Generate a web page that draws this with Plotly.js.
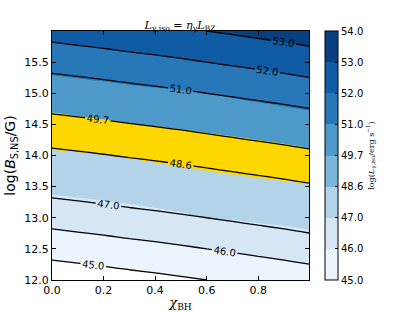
<!DOCTYPE html>
<html>
<head>
<meta charset="utf-8">
<script src="https://cdn.plot.ly/plotly-3.0.1.min.js"></script>
<style>html,body{margin:0;padding:0;background:#fff;}#chart{width:415px;height:312px;}</style>
</head>
<body>
<div id="chart"></div>
<script>
// Spin parameter samples (x) and log magnetic field samples (y)
const chi = [0, 0.1, 0.2, 0.3, 0.4, 0.5, 0.6, 0.7, 0.8, 0.9, 0.997];
const logB = [12, 12.5, 13, 13.5, 14, 14.5, 15, 15.5, 16];
// log L_gamma,iso, one row per logB value
const logL = [
  [44.36, 44.46, 44.56, 44.67, 44.77, 44.88, 45.00, 45.12, 45.24, 45.36, 45.49],
  [45.36, 45.46, 45.56, 45.67, 45.77, 45.88, 46.00, 46.12, 46.24, 46.36, 46.49],
  [46.36, 46.46, 46.56, 46.67, 46.77, 46.88, 47.00, 47.12, 47.24, 47.36, 47.49],
  [47.36, 47.46, 47.56, 47.67, 47.77, 47.88, 48.00, 48.12, 48.24, 48.36, 48.49],
  [48.36, 48.46, 48.56, 48.67, 48.77, 48.88, 49.00, 49.12, 49.24, 49.36, 49.49],
  [49.36, 49.46, 49.56, 49.67, 49.77, 49.88, 50.00, 50.12, 50.24, 50.36, 50.49],
  [50.36, 50.46, 50.56, 50.67, 50.77, 50.88, 51.00, 51.12, 51.24, 51.36, 51.49],
  [51.36, 51.46, 51.56, 51.67, 51.77, 51.88, 52.00, 52.12, 52.24, 52.36, 52.49],
  [52.36, 52.46, 52.56, 52.67, 52.77, 52.88, 53.00, 53.12, 53.24, 53.36, 53.49]
];
const levels = [45, 46, 47, 48.6, 49.7, 51, 52, 53, 54];
const levelLabels = ['45.0', '46.0', '47.0', '48.6', '49.7', '51.0', '52.0', '53.0', '54.0'];
const bandColors = ['#ecf4fb', '#d6e6f4', '#b2d3e8', '#ffd700', '#4c99ca', '#2878b9', '#105ca4', '#083f81'];
const barColors  = ['#ecf4fb', '#d6e6f4', '#b2d3e8', '#7bb7d9', '#4c99ca', '#2878b9', '#105ca4', '#083f81'];
const xTicks = [0, 0.2, 0.4, 0.6, 0.8];
const yTicks = [12, 12.5, 13, 13.5, 14, 14.5, 15, 15.5];

// position of a value on the (uneven) level scale, used only to colour the bands
function levelIndex(v) {
  const n = levels.length;
  if (v <= levels[0]) return v - levels[0];
  if (v >= levels[n - 1]) return n - 1 + (v - levels[n - 1]);
  for (let k = 0; k < n - 1; k++) {
    if (v <= levels[k + 1]) return k + (v - levels[k]) / (levels[k + 1] - levels[k]);
  }
}
const zIndex = logL.map(row => row.map(levelIndex));

const traces = [];
// filled bands (white below the lowest level)
const fillCs = [[0, '#ffffff'], [1 / 9, '#ffffff']];
bandColors.forEach((c, i) => { fillCs.push([(i + 1) / 9, c]); fillCs.push([(i + 2) / 9, c]); });
traces.push({
  type: 'contour', x: chi, y: logB, z: zIndex, autocontour: false,
  contours: {coloring: 'fill', start: -1, end: 8, size: 1, showlines: false},
  zmin: -1, zmax: 8, zauto: false, colorscale: fillCs,
  line: {width: 0}, showscale: false, hoverinfo: 'skip', showlegend: false
});
// contour lines with labels
const lineGroups = [
  {start: levels[0], end: levels[2], size: 1},
  {start: levels[3], end: levels[4], size: levels[4] - levels[3]},
  {start: levels[5], end: levels[7], size: 1}
];
lineGroups.forEach(g => {
  traces.push({
    type: 'contour', x: chi, y: logB, z: logL, autocontour: false,
    contours: {coloring: 'none', start: g.start, end: g.end, size: g.size, showlabels: true,
               labelformat: '.1f', labelfont: {family: 'DejaVu Sans', size: 10, color: '#000'}},
    line: {color: '#000', width: 1.3, smoothing: 1}, showscale: false, hoverinfo: 'skip', showlegend: false
  });
});
// colorbar (uniform spacing of levels)
const cs = [];
barColors.forEach((c, i) => { cs.push([i / 8, c]); cs.push([(i + 1) / 8, c]); });
traces.push({
  type: 'scatter', mode: 'markers', x: [0.5], y: [14], hoverinfo: 'skip', showlegend: false,
  marker: {size: 0, opacity: 0, color: [0], colorscale: cs, cmin: 0, cmax: 8, showscale: true,
    colorbar: {
      x: (325 - 52) / 257, xanchor: 'left', xpad: 0, y: 0.5, yanchor: 'middle', len: 1, lenmode: 'fraction',
      ypad: 0, thickness: 13, thicknessmode: 'pixels', outlinewidth: 1, outlinecolor: '#000',
      tickmode: 'array', tickvals: levels.map((v, i) => i), ticktext: levelLabels,
      ticks: 'inside', ticklen: 3, tickcolor: '#000', tickfont: {family: 'DejaVu Sans', size: 10, color: '#000'},
      title: {text: 'log(<i>L</i><sub>γ,iso</sub>/erg s<sup>−1</sup>)', side: 'right',
              font: {family: 'DejaVu Serif', size: 8, color: '#000'}}
    }}
});

const layout = {
  width: 415, height: 312,
  margin: {l: 52, r: 106, t: 31, b: 32},
  paper_bgcolor: '#fff', plot_bgcolor: '#fff',
  font: {family: 'DejaVu Sans', color: '#000'},
  title: {text: '<i>L</i><sub>γ,iso</sub> = <i>η</i><sub>γ</sub><i>L</i><sub>BZ</sub>',
          font: {family: 'DejaVu Serif', size: 11, color: '#000'},
          x: (180 / 415), xanchor: 'center', xref: 'container', y: 1 - 25 / 312, yanchor: 'middle', yref: 'container'},
  xaxis: {range: [0, 0.997], tickmode: 'array', tickvals: xTicks, tickformat: '.1f',
          ticks: 'inside', ticklen: 4, tickcolor: '#000', showline: true, linecolor: '#000', linewidth: 1,
          mirror: 'ticks', showgrid: false, zeroline: false,
          tickfont: {family: 'DejaVu Sans', size: 11, color: '#000'},
          title: {text: '<i>χ</i><sub>BH</sub>', font: {family: 'DejaVu Serif', size: 13, color: '#000'}, standoff: 10}},
  yaxis: {range: [12, 16], tickmode: 'array', tickvals: yTicks, tickformat: '.1f',
          ticks: 'inside', ticklen: 4, tickcolor: '#000', showline: true, linecolor: '#000', linewidth: 1,
          mirror: 'ticks', showgrid: false, zeroline: false,
          tickfont: {family: 'DejaVu Sans', size: 11, color: '#000'},
          title: {text: 'log(<i>B</i><sub>S,NS</sub>/G)', font: {family: 'DejaVu Sans', size: 14, color: '#000'}, standoff: 5}}
};

Plotly.newPlot('chart', traces, layout, {displayModeBar: false, staticPlot: true});
</script>
</body>
</html>
